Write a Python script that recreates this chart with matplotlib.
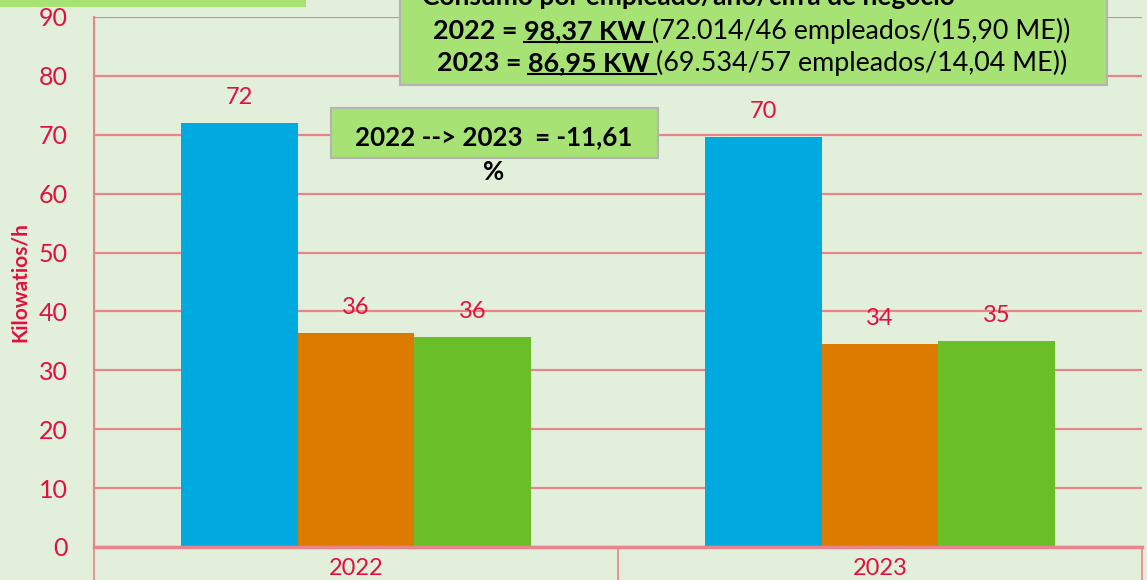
import matplotlib.pyplot as plt
from matplotlib.patches import Rectangle
from matplotlib.lines import Line2D

# datos del grafico
years = ['2022', '2023']
consumo_1 = [72.0, 69.6]
consumo_2 = [36.3, 34.4]
consumo_3 = [35.6, 34.9]
series = [consumo_1, consumo_2, consumo_3]
y_ticks = [0, 10, 20, 30, 40, 50, 60, 70, 80, 90]

titulo = 'Consumo por empleado/año/cifra de negocio'
linea_2022 = [('2022 = ', True, False), ('98,37 KW ', True, True),
              ('(72.014/46 empleados/(15,90 ME))', False, False)]
linea_2023 = [('2023 = ', True, False), ('86,95 KW ', True, True),
              ('(69.534/57 empleados/14,04 ME))', False, False)]
variacion = '2022 --> 2023  = -11,61'

# colores
fondo = '#E2EFDA'
caja = '#A6E274'
borde = '#B4B4B4'
rojo = '#E2103E'
rosa = '#E8848C'
colores = ['#00AADF', '#DD7B00', '#6ABF29']

plt.rcParams['font.family'] = ['Lato', 'DejaVu Sans']

W, H = 1147, 580
fig = plt.figure(figsize=(W / 100, H / 100), dpi=100, facecolor=fondo)


def px(x, y):
    return x / W, 1 - y / H


ax = fig.add_axes([94 / W, 33 / H, 1048 / W, 530 / H])
ax.set_facecolor(fondo)

ancho = 0.223
x = list(range(len(years)))
for i, vals in enumerate(series):
    pos = [xi + (i - 1) * ancho for xi in x]
    bars = ax.bar(pos, vals, width=ancho, color=colores[i], zorder=3)
    for b, v in zip(bars, vals):
        ax.annotate(f'{v:.0f}', (b.get_x() + b.get_width() / 2, v),
                    xytext=(0, 11), textcoords='offset points',
                    ha='center', va='bottom', color=rojo, fontsize=17)

ax.set_xlim(-0.5, 1.5)
ax.set_ylim(0, 90)
ax.set_yticks(y_ticks)
ax.set_xticks(x)
ax.set_xticklabels(years)
ax.set_xticks([-0.5, 0.5, 1.5], minor=True)
ax.tick_params(axis='y', length=0, pad=19, labelcolor=rojo, labelsize=18)
ax.tick_params(axis='x', which='major', length=0, pad=8, labelcolor=rojo, labelsize=17)
ax.tick_params(axis='x', which='minor', length=26, width=1.2, color=rosa)
ax.grid(axis='y', color=rosa, lw=1.6, zorder=0)
for s in ['top', 'right']:
    ax.spines[s].set_visible(False)
ax.spines['left'].set_color(rosa)
ax.spines['left'].set_linewidth(1.5)
ax.spines['bottom'].set_color(rosa)
ax.spines['bottom'].set_linewidth(2.5)
ax.spines['bottom'].set_zorder(4)

fig.text(*px(20, 282), 'Kilowatios/h', rotation=90, ha='center', va='center',
         color=rojo, fontsize=15, fontweight='bold')

# cajas de texto
fig.patches.append(Rectangle(px(0, 7), 306 / W, 20 / H, transform=fig.transFigure,
                             facecolor=caja, edgecolor='none', zorder=5))
fig.patches.append(Rectangle(px(400, 85), 707 / W, 100 / H, transform=fig.transFigure,
                             facecolor=caja, edgecolor=borde, lw=1.5, zorder=5))
fig.patches.append(Rectangle(px(331, 158), 327 / W, 50 / H, transform=fig.transFigure,
                             facecolor=caja, edgecolor=borde, lw=1.5, zorder=5))

fig.text(*px(422, 5), titulo, ha='left', va='baseline', fontsize=19,
         fontweight='bold', zorder=6)
fig.text(*px(494, 137), variacion, ha='center', va='center', fontsize=18.6,
         fontweight='bold', zorder=6)
fig.text(*px(494, 172), '%', ha='center', va='center', fontsize=18.6,
         fontweight='bold', zorder=6)

renderer = fig.canvas.get_renderer()


def ancho_px(s, bold, size):
    t = fig.text(0, 0, '|' + s + '|', fontsize=size, fontweight='bold' if bold else 'normal')
    t2 = fig.text(0, 0, '||', fontsize=size, fontweight='bold' if bold else 'normal')
    w = t.get_window_extent(renderer).width - t2.get_window_extent(renderer).width
    t.remove()
    t2.remove()
    return w


def linea_rica(segmentos, xc, y, size):
    anchos = [ancho_px(s, b, size) for s, b, u in segmentos]
    x0 = xc - sum(anchos) / 2
    for (s, b, u), w in zip(segmentos, anchos):
        fig.text(*px(x0, y), s, ha='left', va='baseline', fontsize=size,
                 fontweight='bold' if b else 'normal', zorder=6)
        if u:
            fig.add_artist(Line2D([x0 / W, (x0 + w) / W], [1 - (y + 3) / H] * 2,
                                  transform=fig.transFigure, color='black', lw=1.5, zorder=6))
        x0 += w


linea_rica(linea_2022, 752, 39, 19.4)
linea_rica(linea_2023, 752, 71, 19.4)

fig.savefig('out.png', dpi=100, facecolor=fondo)
